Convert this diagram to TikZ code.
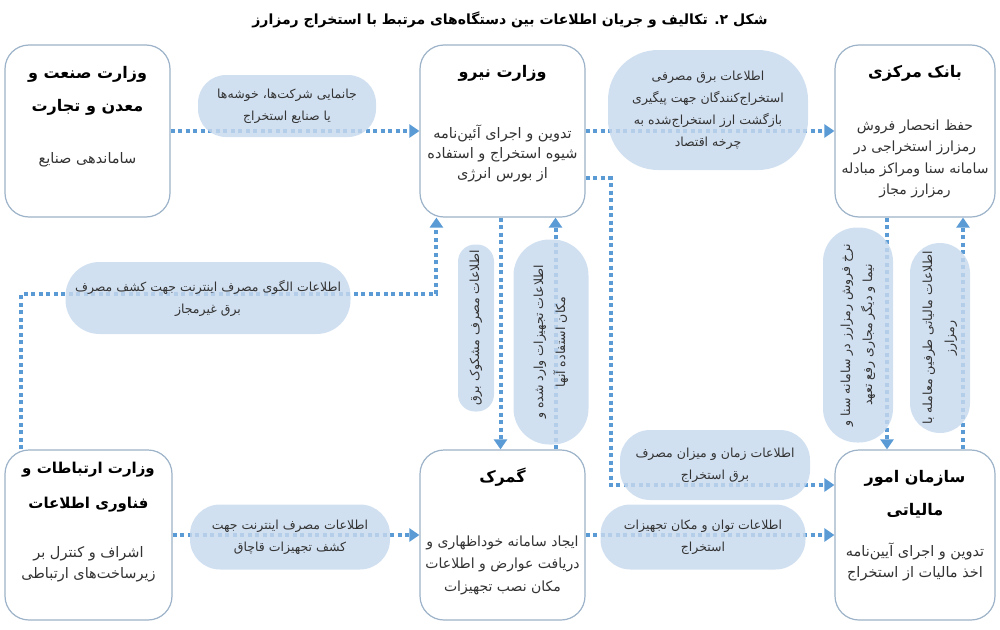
\documentclass[tikz,border=0pt]{standalone}
\usepackage{fontspec}
\newfontfamily\fa[Script=Arabic]{DejaVu Sans}
\TeXXeTstate=1
\usetikzlibrary{arrows.meta,calc}
\newcommand\RL[1]{\beginR #1\endR}
\definecolor{boxc}{HTML}{9DB3C9}
\definecolor{labc}{HTML}{C8DAEE}
\definecolor{flowc}{HTML}{5B9BD5}
\definecolor{txtc}{HTML}{333333}
\begin{document}
\begin{tikzpicture}[x=1pt,y=-1pt,
 box/.style={draw=boxc,line width=1.2pt,rounded corners=24pt,fill=white,inner sep=0pt},
 ttl/.style={font=\fa\bfseries\fontsize{16}{33}\selectfont,align=center,text=black},
 bdy/.style={font=\fa\fontsize{14.5}{21}\selectfont,align=center,text=txtc},
 lab/.style={fill=labc,fill opacity=0.82,text opacity=1,inner sep=0pt,font=\fa\fontsize{12.5}{22}\selectfont,align=center,text=txtc},
 flow/.style={draw=flowc,line width=4pt,dash pattern=on 4pt off 3.5pt,-{Triangle[width=13pt,length=10pt]}}]
\useasboundingbox[fill=white] (0,0) rectangle (1000,629);
% title
\node[font=\fa\bfseries\fontsize{14}{18}\selectfont] (T) at (510,20) {\RL{شکل ۲. تکالیف و جریان اطلاعات بین دستگاه‌های مرتبط با استخراج رمزارز}};
% boxes
\node[box,minimum width=165pt,minimum height=172pt] (A) at (87.5,131) {};
\node[box,minimum width=165pt,minimum height=172pt] (B) at (502.5,131) {};
\node[box,minimum width=160pt,minimum height=172pt] (C) at (915,131) {};
\node[box,minimum width=167pt,minimum height=170pt] (D) at (88.5,535) {};
\node[box,minimum width=165pt,minimum height=170pt] (E) at (502.5,535) {};
\node[box,minimum width=160pt,minimum height=170pt] (F) at (915,535) {};
% box texts
\node[ttl] (At) at (87.5,91) {\RL{وزارت صنعت و}\\\RL{معدن و تجارت}};
\node[bdy] (Ab) at (87.5,160) {\RL{ساماندهی صنایع}};
\node[ttl] (Bt) at (502.5,73) {\RL{وزارت نیرو}};
\node[bdy,font=\fa\fontsize{14.5}{20}\selectfont] (Bb) at (502.5,153) {\RL{تدوین  و اجرای آئین‌نامه}\\\RL{شیوه استخراج و استفاده}\\\RL{از بورس انرژی}};
\node[ttl] (Ct) at (915,73) {\RL{بانک مرکزی}};
\node[bdy,font=\fa\fontsize{14}{21.5}\selectfont] (Cb) at (915,159) {\RL{حفظ انحصار فروش}\\\RL{رمزارز استخراجی در}\\\RL{سامانه سنا ومراکز مبادله}\\\RL{رمزارز مجاز}};
\node[ttl,font=\fa\bfseries\fontsize{15}{35}\selectfont] (Dt) at (88.5,487) {\RL{وزارت ارتباطات و}\\\RL{فناوری اطلاعات}};
\node[bdy] (Db) at (88.5,564) {\RL{اشراف و کنترل بر}\\\RL{زیرساخت‌های ارتباطی}};
\node[ttl] (Et) at (502.5,477) {\RL{گمرک}};
\node[bdy,font=\fa\fontsize{14}{22.5}\selectfont] (Eb) at (502.5,565) {\RL{ایجاد سامانه خوداظهاری و}\\\RL{دریافت عوارض و اطلاعات}\\\RL{مکان نصب تجهیزات}};
\node[ttl] (Ft) at (915,494) {\RL{سازمان امور}\\\RL{مالیاتی}};
\node[bdy] (Fb) at (915,562) {\RL{تدوین و اجرای آیین‌نامه}\\\RL{اخذ مالیات از استخراج}};
% connectors
\draw[flow] (A.east) -- (B.west);
\draw[flow] (B.east) -- (C.west);
\draw[flow] ($(D.north west)+(17,0)$) -- ++(0,-155) -| ($(B.south west)+(17,0)$);
\draw[flow] ($(B.south)+(-2,0)$) -- ($(E.north)+(-2,0)$);
\draw[flow] ($(E.north)+(53,0)$) -- ($(B.south)+(53,0)$);
\draw[flow] ($(B.east)+(0,47)$) -- ++(25,0) |- ($(F.west)+(0,-50)$);
\draw[flow] (D.east) -- (E.west);
\draw[flow] (E.east) -- (F.west);
\draw[flow] ($(C.south)+(-28,0)$) -- ($(F.north)+(-28,0)$);
\draw[flow] ($(F.north)+(48,0)$) -- ($(C.south)+(48,0)$);
% labels
\node[lab,rounded corners=28pt,minimum width=178pt,minimum height=62pt] (L1) at (287,106) {\RL{جانمایی شرکت‌ها، خوشه‌ها}\\\RL{یا صنایع استخراج}};
\node[lab,rounded corners=50pt,minimum width=200pt,minimum height=120pt] (L2) at (708,110) {\RL{اطلاعات برق مصرفی}\\\RL{استخراج‌کنندگان جهت پیگیری}\\\RL{بازگشت ارز استخراج‌شده به}\\\RL{چرخه اقتصاد}};
\node[lab,rounded corners=34pt,minimum width=285pt,minimum height=72pt] (L3) at (208,298) {\RL{اطلاعات الگوی مصرف اینترنت جهت کشف مصرف}\\\RL{برق غیرمجاز}};
\node[lab,rotate=90,rounded corners=17pt,minimum width=167pt,minimum height=36pt] (L4) at (476,328) {\RL{اطلاعات مصرف مشکوک برق}};
\node[lab,rotate=90,rounded corners=36pt,minimum width=205pt,minimum height=75pt] (L5) at (551,342) {\RL{اطلاعات تجهیزات وارد شده و}\\\RL{مکان استفاده آنها}};
\node[lab,rounded corners=30pt,minimum width=190pt,minimum height=70pt] (L6) at (715,465) {\RL{اطلاعات زمان و میزان مصرف}\\\RL{برق استخراج}};
\node[lab,rounded corners=30pt,minimum width=205pt,minimum height=65pt] (L7) at (703,537) {\RL{اطلاعات توان و مکان تجهیزات}\\\RL{استخراج}};
\node[lab,rounded corners=30pt,minimum width=200pt,minimum height=65pt] (L8) at (290,537) {\RL{اطلاعات مصرف اینترنت جهت}\\\RL{کشف تجهیزات قاچاق}};
\node[lab,rotate=90,rounded corners=34pt,minimum width=215pt,minimum height=70pt] (L9) at (858,335) {\RL{نرخ فروش رمزارز در سامانه سنا و}\\\RL{نیما و دیگر مجاری رفع تعهد}};
\node[lab,rotate=90,rounded corners=30pt,minimum width=190pt,minimum height=60pt] (L10) at (940,338) {\RL{اطلاعات مالیاتی طرفین معامله با}\\\RL{رمزارز}};
\end{tikzpicture}
\end{document}
